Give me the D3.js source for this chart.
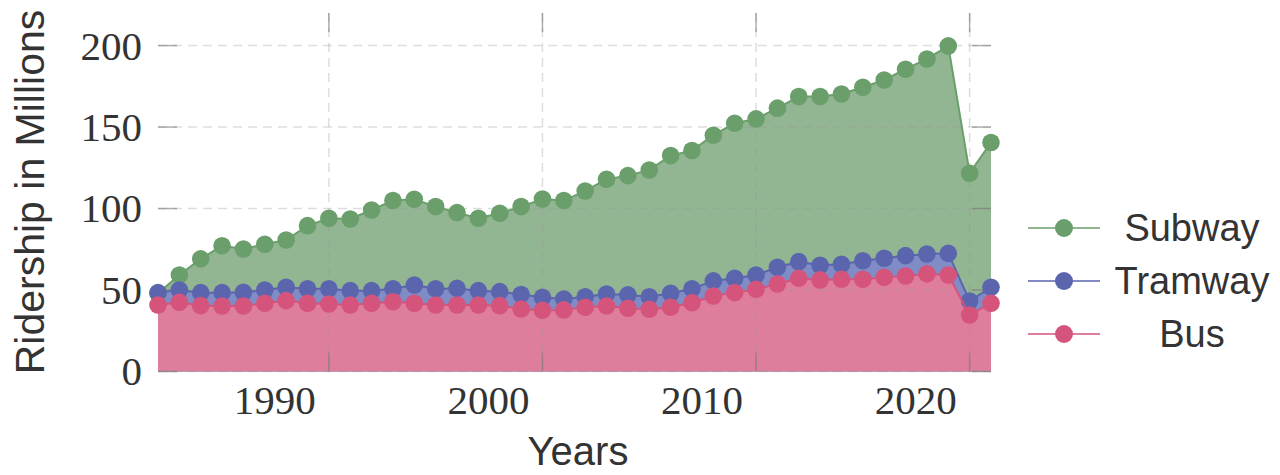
<!DOCTYPE html>
<html>
<head>
<meta charset="utf-8">
<script src="https://cdn.jsdelivr.net/npm/d3@7"></script>
<style>
  html, body { margin: 0; padding: 0; background: #fff; }
  svg { display: block; }
</style>
</head>
<body>
<svg id="chart" width="1280" height="475"></svg>
<script>
// Annual ridership, in millions of passengers
const years = d3.range(1982, 2022);

const subway = [48, 59.2, 69.1, 77.2, 75.2, 78.1, 80.7, 89.5, 94.0, 93.6,
                99.1, 104.9, 105.7, 101.2, 97.5, 94.0, 97.1, 101.2, 105.8, 104.9,
                110.8, 118.0, 120.2, 123.7, 132.5, 135.6, 145.0, 152.3, 155.0, 161.6,
                168.7, 168.7, 170.3, 174.4, 178.9, 185.5, 191.8, 199.8, 121.7, 140.5];

const tramway = [48.4, 50.0, 48.4, 48.4, 48.6, 50.0, 51.7, 50.8, 50.8, 49.6,
                 49.6, 50.8, 53.1, 50.8, 51.0, 49.6, 49.0, 47.2, 45.5, 44.5,
                 45.9, 47.6, 47.0, 45.9, 48.0, 50.8, 55.6, 57.2, 59.2, 64.0,
                 67.4, 65.2, 65.8, 68.0, 69.5, 71.1, 72.1, 72.5, 43.3, 51.7];

const bus = [40.8, 42.5, 40.4, 40.2, 40.2, 41.9, 43.5, 41.9, 41.4, 40.8,
             41.9, 42.8, 41.9, 40.8, 40.8, 40.8, 40.4, 38.4, 37.6, 37.8,
             39.4, 40.2, 38.8, 38.2, 39.4, 42.2, 46.3, 48.4, 50.5, 53.7,
             57.2, 56.2, 56.6, 56.6, 57.8, 58.6, 59.9, 59.2, 34.7, 41.9];

const seriesNames = ["Subway", "Tramway", "Bus"];
const seriesValues = [subway, tramway, bus];

const xTicks = [1990, 2000, 2010, 2020];
const yTicks = [0, 50, 100, 150, 200];

const markerColors = ["#6a9e6b", "#5b65ae", "#d5547c"];
const fillColors = ["#93b692", "#808cc6", "#de7e9c"];

const svg = d3.select("#chart");
const plotLeft = 158, plotRight = 991, plotTop = 13, plotBottom = 371.5;

const x = d3.scaleLinear().domain([1982, 2021]).range([plotLeft, plotRight]);
const y = d3.scaleLinear().domain([0, 220]).range([plotBottom, plotTop]);

// Filled areas, largest first so smaller series sit on top
seriesValues.forEach((vals, i) => {
  const data = years.map((yr, j) => ({ yr, v: vals[j] }));
  svg.append("path")
    .datum(data)
    .attr("fill", fillColors[i])
    .attr("d", d3.area().x(d => x(d.yr)).y0(y(0)).y1(d => y(d.v)));
});

// Dashed grid drawn over the fills
const grid = svg.append("g");
grid.selectAll("line.gx").data(xTicks).join("line")
  .attr("x1", d => x(d)).attr("x2", d => x(d))
  .attr("y1", plotTop).attr("y2", plotBottom)
  .attr("stroke", "rgba(150,150,150,0.32)").attr("stroke-width", 1.5)
  .attr("stroke-dasharray", "9,6");
grid.selectAll("line.gy").data(yTicks).join("line")
  .attr("x1", plotLeft).attr("x2", plotRight)
  .attr("y1", d => y(d)).attr("y2", d => y(d))
  .attr("stroke", "rgba(150,150,150,0.32)").attr("stroke-width", 1.5)
  .attr("stroke-dasharray", "9,6");

// Inward ticks on all four sides
const tickLen = 19;
const tickColor = "rgba(120,120,120,0.6)";
const ticks = svg.append("g").attr("stroke", tickColor).attr("stroke-width", 1.5);
xTicks.forEach(t => {
  ticks.append("line").attr("x1", x(t)).attr("x2", x(t)).attr("y1", plotTop).attr("y2", plotTop + tickLen);
  ticks.append("line").attr("x1", x(t)).attr("x2", x(t)).attr("y1", plotBottom).attr("y2", plotBottom - tickLen);
});
yTicks.forEach(t => {
  ticks.append("line").attr("x1", plotLeft).attr("x2", plotLeft + tickLen).attr("y1", y(t)).attr("y2", y(t));
  ticks.append("line").attr("x1", plotRight).attr("x2", plotRight - tickLen).attr("y1", y(t)).attr("y2", y(t));
});

// Lines and markers
seriesValues.forEach((vals, i) => {
  const data = years.map((yr, j) => ({ yr, v: vals[j] }));
  svg.append("path")
    .datum(data)
    .attr("fill", "none")
    .attr("stroke", markerColors[i])
    .attr("stroke-width", 2)
    .attr("d", d3.line().x(d => x(d.yr)).y(d => y(d.v)));
  svg.append("g").selectAll("circle").data(data).join("circle")
    .attr("cx", d => x(d.yr)).attr("cy", d => y(d.v)).attr("r", 8.8)
    .attr("fill", markerColors[i]);
});

// Tick labels
const serif = "'Liberation Serif', 'Times New Roman', serif";
const sans = "'Liberation Sans', Arial, sans-serif";
svg.append("g").selectAll("text").data(yTicks).join("text")
  .attr("x", 142).attr("y", d => y(d)).attr("dy", "0.34em")
  .attr("text-anchor", "end")
  .attr("font-family", serif).attr("font-size", 41).attr("fill", "#333")
  .text(d => d);
svg.append("g").selectAll("text").data(xTicks).join("text")
  .attr("x", d => x(d) - 54).attr("y", 414)
  .attr("text-anchor", "middle")
  .attr("font-family", serif).attr("font-size", 41).attr("fill", "#333")
  .text(d => d);

// Axis titles
svg.append("text")
  .attr("x", 578).attr("y", 465)
  .attr("text-anchor", "middle")
  .attr("font-family", sans).attr("font-size", 40).attr("fill", "#333")
  .text("Years");
svg.append("text")
  .attr("transform", "translate(44,192) rotate(-90)")
  .attr("text-anchor", "middle")
  .attr("font-family", sans).attr("font-size", 41).attr("fill", "#333")
  .text("Ridership in Millions");

// Legend
const legendY = [228, 281, 334];
const legend = svg.append("g");
seriesNames.forEach((name, i) => {
  const ly = legendY[i];
  legend.append("line")
    .attr("x1", 1028).attr("x2", 1100).attr("y1", ly).attr("y2", ly)
    .attr("stroke", markerColors[i]).attr("stroke-width", 1.5);
  legend.append("circle")
    .attr("cx", 1064).attr("cy", ly).attr("r", 9)
    .attr("fill", markerColors[i]);
  legend.append("text")
    .attr("x", 1192).attr("y", ly + 13)
    .attr("text-anchor", "middle")
    .attr("font-family", sans).attr("font-size", 38).attr("fill", "#333")
    .text(name);
});
</script>
</body>
</html>
